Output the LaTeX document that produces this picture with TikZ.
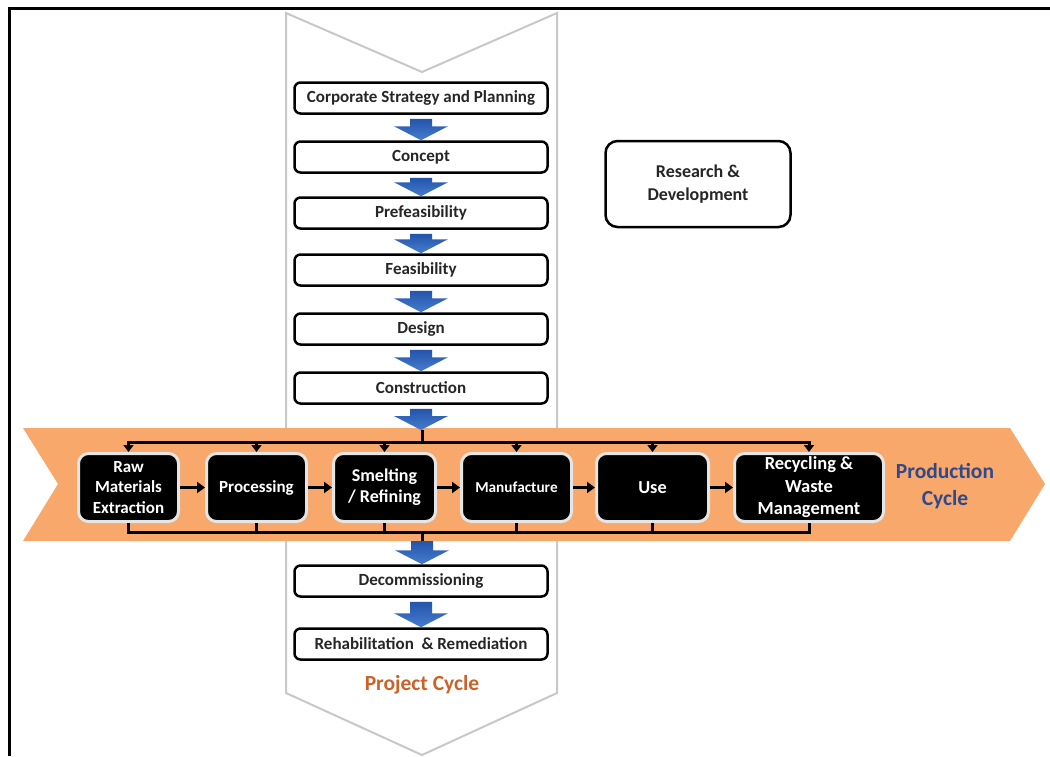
\documentclass[tikz,border=0pt]{standalone}
\usepackage{fontspec}
\setmainfont{Carlito}
\usetikzlibrary{arrows.meta,calc}

\definecolor{bandorange}{RGB}{247,168,106}
\definecolor{chevgray}{RGB}{200,200,200}
\definecolor{prodblue}{RGB}{48,72,140}
\definecolor{projorange}{RGB}{204,98,40}
\definecolor{arrowtop}{RGB}{36,84,172}
\definecolor{arrowbot}{RGB}{70,125,205}

\tikzset{
  projbox/.style={draw=black, line width=2.5pt, fill=white, rounded corners=6pt,
    minimum width=253pt, minimum height=31pt, inner sep=0pt, text=black!85,
    font=\bfseries\fontsize{17}{19}\selectfont},
  prodbox/.style={draw=white!90!black, line width=3pt, fill=black, rounded corners=10pt,
    minimum height=68pt, inner sep=0pt, text=white, align=center,
    font=\bfseries\fontsize{17}{20.5}\selectfont},
  rdbox/.style={draw=black, line width=2.5pt, fill=white, rounded corners=12pt,
    minimum width=185pt, minimum height=86pt, inner sep=0pt, align=center,
    text=black!85, font=\bfseries\fontsize{18}{23}\selectfont},
  flowarrow/.style={line width=3pt, -{Triangle[length=8pt,width=11pt]}},
  busline/.style={line width=3pt},
  busdrop/.style={line width=3pt, -{Triangle[length=7pt,width=10pt]}},
}

% broad blue block arrow pointing down, from #2 (its x) to the tip at #3
\newcommand\blockdown[3][4]{%
  \shade[top color=arrowtop, bottom color=arrowbot]
    let \p1=(#2), \p2=(#3) in
    (\x1-11pt,\y1-#1pt) -- (\x1+11pt,\y1-#1pt) -- (\x1+11pt,\y2+14pt)
    -- (\x1+27pt,\y2+14pt) -- (\x1,\y2) -- (\x1-27pt,\y2+14pt)
    -- (\x1-11pt,\y2+14pt) -- cycle;}

\begin{document}
\begin{tikzpicture}[x=1pt,y=-1pt]
\useasboundingbox (0,0) rectangle (1050,756);

% outer frame
\draw[line width=3pt] (9,756) -- (9,8) -- (1050,8);

% project cycle chevron
\draw[chevgray, fill=white, line width=2pt, line join=miter]
  (286,13) -- (422,72) -- (557,13) -- (557,693) -- (422,755) -- (286,693) -- cycle;

% production cycle band
\fill[bandorange] (23,428) -- (1010,428) -- (1045,484) -- (1010,541) -- (23,541) -- (58,484) -- cycle;

% project cycle stages
\node[projbox] (corp)   at (421,98)  {Corporate Strategy and Planning};
\node[projbox] (conc)   at (421,157) {Concept};
\node[projbox] (prefs)  at (421,213) {Prefeasibility};
\node[projbox] (feas)   at (421,270) {Feasibility};
\node[projbox] (desg)   at (421,329) {Design};
\node[projbox] (cons)   at (421,388) {Construction};
\node[projbox] (decom)  at (421,581) {Decommissioning};
\node[projbox] (rehab)  at (421,644) {Rehabilitation \ \& Remediation};

\node[text=projorange, font=\bfseries\fontsize{21.5}{24}\selectfont] (pclabel) at (422,685) {Project Cycle};

% research box
\node[rdbox] (rd) at (698,184) {Research \&\\Development};

% production cycle stages
\node[prodbox, minimum width=100pt] (raw)  at (128.5,487.5) {Raw\\Materials\\Extraction};
\node[prodbox, minimum width=100pt] (proc) at (256.5,487.5) {Processing};
\node[prodbox, minimum width=102pt, font=\bfseries\fontsize{18}{21}\selectfont] (smel) at (384.5,487.5) {Smelting\\/ Refining};
\node[prodbox, minimum width=110pt, font=\bfseries\fontsize{15.3}{17}\selectfont] (manu) at (516.5,487.5) {Manufacture};
\node[prodbox, minimum width=112pt, font=\bfseries\fontsize{18.3}{21}\selectfont] (use)  at (652.5,487.5) {Use};
\node[prodbox, minimum width=149pt, font=\bfseries\fontsize{18.5}{22.5}\selectfont] (recy) at (809,487.5) {Recycling \&\\Waste\\Management};

\node[text=prodblue, align=center, font=\bfseries\fontsize{21.5}{27}\selectfont] (pdlabel) at (945,486) {Production\\Cycle};

% flow between production stages
\draw[flowarrow] (raw)  -- (proc);
\draw[flowarrow] (proc) -- (smel);
\draw[flowarrow] (smel) -- (manu);
\draw[flowarrow] (manu) -- (use);
\draw[flowarrow] (use)  -- (recy);

% buses feeding and collecting the production stages
\coordinate (bandin)  at (422,430);
\coordinate (tb)      at (422,442);
\coordinate (bb)      at (422,532);
\coordinate (bandout) at (422,541);

\draw[busline] (bandin) -- (tb);
\draw[busdrop] (tb) -| (raw.north);
\draw[busdrop] (tb) -| (recy.north);
\foreach \n in {proc,smel,manu,use}
  \draw[busdrop] (\n.north |- tb) -- (\n.north);

\draw[busline] (raw.south) |- (bb) -| (recy.south);
\foreach \n in {proc,smel,manu,use}
  \draw[busline] (\n.south) -- (\n.south |- bb);
\draw[busline] (bb) -- (bandout);

% project cycle flow arrows
\blockdown{corp.south}{conc.north}
\blockdown{conc.south}{prefs.north}
\blockdown{prefs.south}{feas.north}
\blockdown{feas.south}{desg.north}
\blockdown{desg.south}{cons.north}
\blockdown{cons.south}{bandin}
\blockdown[0]{bandout}{decom.north}
\blockdown{decom.south}{rehab.north}
\end{tikzpicture}
\end{document}
